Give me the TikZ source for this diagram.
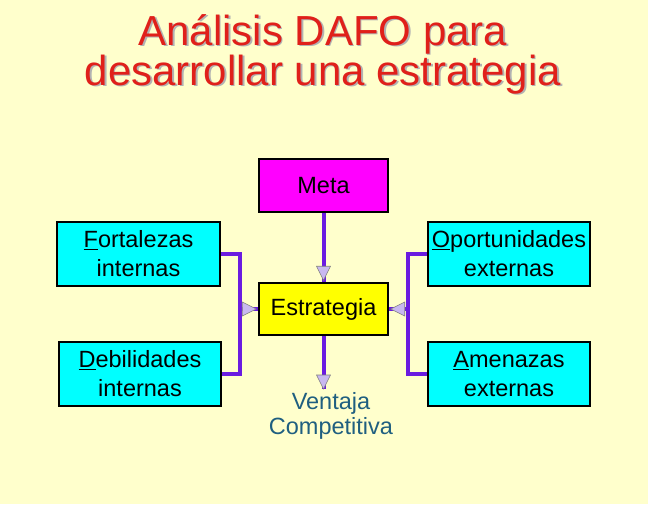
\documentclass[tikz,border=0pt]{standalone}
\usepackage{fontspec}
\setmainfont{Liberation Sans}
\usetikzlibrary{calc}
\definecolor{bg}{HTML}{FFFFCC}
\definecolor{ttl}{HTML}{E0201A}
\definecolor{cy}{HTML}{00FFFF}
\definecolor{mg}{HTML}{FF00FF}
\definecolor{yl}{HTML}{FFFF00}
\definecolor{pu}{HTML}{6A1BE0}
\definecolor{tipc}{HTML}{C8B8F0}
\definecolor{vt}{HTML}{1F5F80}
\begin{document}
\begin{tikzpicture}[x=1pt,y=-1pt,
  box/.style={draw=black,line width=2.5pt,inner sep=0pt,font=\fontsize{23.5}{29}\selectfont,align=center},
  conn/.style={draw=pu,line width=4pt},
  tip/.style={fill=tipc,draw=gray,line width=0.6pt}]
\fill[bg] (0,0) rectangle (648,504);
\useasboundingbox (0,0) rectangle (648,504);
\node[text=gray!60,font=\fontsize{42}{37}\selectfont,align=center] at (324.5,55.5) {Análisis DAFO para\\desarrollar una estrategia};
\node (title) [text=ttl,font=\fontsize{42}{37}\selectfont,align=center] at (323,54) {Análisis DAFO para\\desarrollar una estrategia};
\node (meta) [box,fill=mg,minimum width=129pt,minimum height=53pt] at (323.5,185.5) {Meta};
\node (est) [box,fill=yl,minimum width=129pt,minimum height=52pt] at (323.5,309) {Estrategia};
\node (fort) [box,fill=cy,minimum width=163pt,minimum height=64pt] at (138.5,254) {\underline{F}ortalezas\\internas};
\node (deb) [box,fill=cy,minimum width=162pt,minimum height=64pt] at (140,374) {\underline{D}ebilidades\\internas};
\node (opo) [box,fill=cy,minimum width=162pt,minimum height=64pt] at (509,254) {\underline{O}portunidades\\externas};
\node (ame) [box,fill=cy,minimum width=162pt,minimum height=64pt] at (509,374) {\underline{A}menazas\\externas};
\node (vent) [text=vt,font=\fontsize{23.5}{25}\selectfont,align=center,inner sep=0pt] at (331,416) {Ventaja\\Competitiva};
\coordinate (lj) at (240,309);
\coordinate (rj) at (408,309);
\coordinate (vtip) at (323.5,389);
\draw[conn] (fort.east) -| (lj) |- (deb.east);
\draw[conn] (lj) -- (est.west);
\draw[conn] (opo.west) -| (rj) |- (ame.west);
\draw[conn] (rj) -- (est.east);
\draw[conn] (meta.south) -- (est.north);
\draw[conn] (est.south) -- (vtip);
\path[tip] ($(est.north)+(0,-1.5)$) -- ++(-7,-14) -- ++(14,0) -- cycle;
\path[tip] (vtip) -- ++(-7,-14) -- ++(14,0) -- cycle;
\path[tip] ($(est.west)+(-1.5,0)$) -- ++(-14,-7) -- ++(0,14) -- cycle;
\path[tip] ($(est.east)+(1.5,0)$) -- ++(14,-7) -- ++(0,14) -- cycle;
\end{tikzpicture}
\end{document}
